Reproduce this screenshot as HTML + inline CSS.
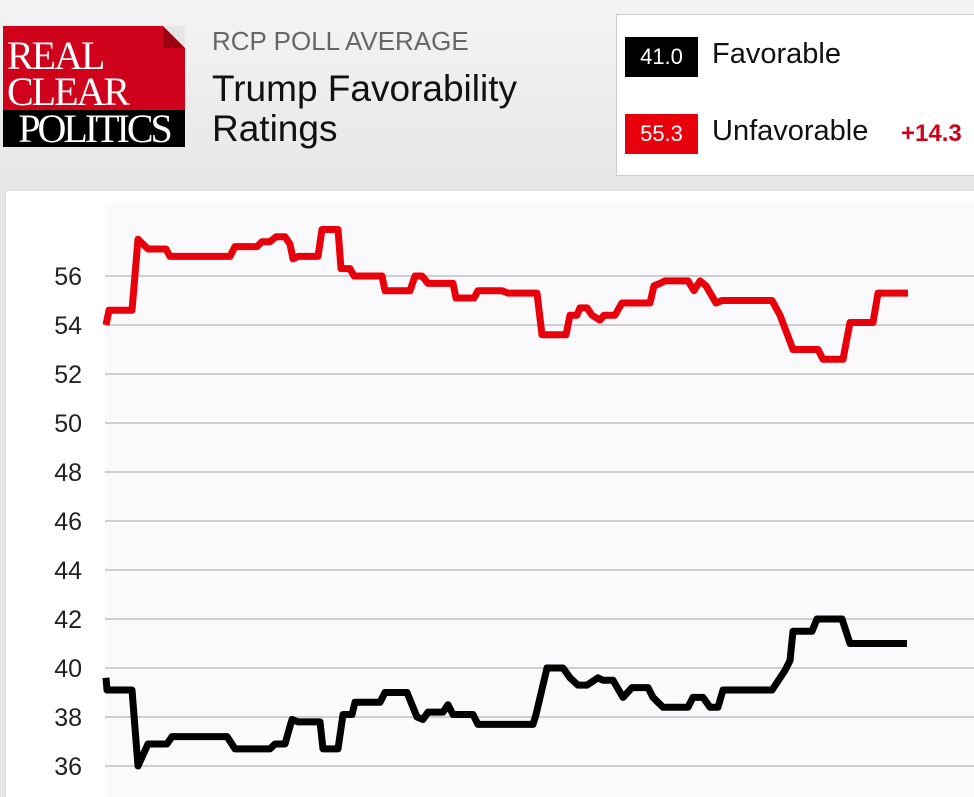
<!DOCTYPE html>
<html><head><meta charset="utf-8">
<style>
html,body{margin:0;width:974px;height:797px;overflow:hidden}
body{background:linear-gradient(#f4f4f4,#e6e6e6 190px,#e6e6e6);font-family:"Liberation Sans",sans-serif;position:relative}
.abs{position:absolute}
</style></head><body>
<div class="abs" style="left:3px;top:26px;width:182px;height:121px;background:#d0021b;font-family:'Liberation Serif',serif;color:#fff;overflow:hidden">
  <div class="abs" style="right:0;top:0;width:0;height:0;border-top:22px solid #e6e6e6;border-left:22px solid #9a0010"></div>
  <div class="abs" style="left:4px;top:12px;font-size:40px;line-height:36px;letter-spacing:-2px">REAL<br>CLEAR</div>
  <div class="abs" style="left:0;top:84px;width:182px;height:37px;background:#000;font-size:40px;line-height:38px;letter-spacing:-3px;text-align:center">POLITICS</div>
</div>
<div class="abs" style="left:212px;top:26px;font-size:26px;color:#666">RCP POLL AVERAGE</div>
<div class="abs" style="left:212px;top:69px;font-size:37px;line-height:40px;color:#111">Trump Favorability<br>Ratings</div>
<div class="abs" style="left:616px;top:14px;width:370px;height:160px;background:#fff;border:1px solid #ccc">
  <div class="abs" style="left:8px;top:22px;height:40px">
    <span class="abs" style="left:0;top:0;width:73px;height:40px;background:#000;color:#fff;font-size:22px;line-height:40px;text-align:center">41.0</span>
    <span class="abs" style="left:87px;top:1px;font-size:29px;color:#111;white-space:nowrap">Favorable</span>
  </div>
  <div class="abs" style="left:8px;top:99px;height:40px">
    <span class="abs" style="left:0;top:0;width:73px;height:40px;background:#e8000b;color:#fff;font-size:22px;line-height:40px;text-align:center">55.3</span>
    <span class="abs" style="left:87px;top:1px;font-size:29px;color:#111;white-space:nowrap">Unfavorable</span>
    <span class="abs" style="left:276px;top:6px;font-size:24px;font-weight:bold;color:#d0021b">+14.3</span>
  </div>
</div>
<div class="abs" style="left:5px;top:190px;width:980px;height:620px;background:#fff;border:1px solid #ddd"></div>
<svg class="abs" style="left:0;top:0" width="974" height="797">
  <rect x="105" y="203" width="869" height="594" fill="#fafafd"/>
  <g id="grid"></g><g id="ticks"></g><g id="lines"></g>
</svg>
<script>
const yTicks=[36,38,40,42,44,46,48,50,52,54,56];
const unfavT=[0,0.6,5.2,6.4,8.4,12,12.8,24.8,25.8,30.2,31.2,32.8,34,35.8,36.8,37.4,38.4,42.4,43.2,46.4,47,48.8,49.6,55.2,55.8,60.8,61.8,63.2,64.4,69.4,70,73.6,74.4,79.2,80.4,86.2,87.2,92,92.8,94.2,94.8,96.2,97.2,98.8,99.6,101.8,103.2,104.4,108.8,109.6,110.8,111.8,116.4,117.6,118.8,120,122,123.2,133.2,134.8,137.4,142.4,143.4,147.4,148.8,153.4,154.4,159.4,160.4];
const unfavV=[54.0,54.6,54.6,57.5,57.1,57.1,56.8,56.8,57.2,57.2,57.4,57.4,57.6,57.6,57.3,56.7,56.8,56.8,57.9,57.9,56.3,56.3,56.0,56.0,55.4,55.4,56.0,56.0,55.7,55.7,55.1,55.1,55.4,55.4,55.3,55.3,53.6,53.6,54.4,54.4,54.7,54.7,54.4,54.2,54.4,54.4,54.9,54.9,54.9,55.6,55.7,55.8,55.8,55.4,55.8,55.6,54.9,55.0,55.0,54.4,53.0,53.0,52.6,52.6,54.1,54.1,55.3,55.3,55.3];
const favT=[0,0.2,5.2,6.4,8.4,12.2,13.2,24.2,25.8,32.8,33.8,35.8,37.2,38.4,42.8,43.4,46.4,47.4,49.2,49.8,54.8,55.8,60.2,62.2,63.4,64.4,67.4,68.4,69.4,73.4,74.4,85.4,86,88.2,91.4,92.8,94.4,96.2,98.4,99.4,101.4,103.4,105.2,108.4,109.4,111.4,116.4,117.4,119.4,120.8,122.4,123.4,133.2,135.8,136.8,137.4,141.2,142.2,147.2,148.8,160.2];
const favV=[39.6,39.1,39.1,36.0,36.9,36.9,37.2,37.2,36.7,36.7,36.9,36.9,37.9,37.8,37.8,36.7,36.7,38.1,38.1,38.6,38.6,39.0,39.0,38.0,37.9,38.2,38.2,38.5,38.1,38.1,37.7,37.7,38.1,40.0,40.0,39.6,39.3,39.3,39.6,39.5,39.5,38.8,39.2,39.2,38.8,38.4,38.4,38.8,38.8,38.4,38.4,39.1,39.1,39.9,40.3,41.5,41.5,42.0,42.0,41.0,41.0];
const NS='http://www.w3.org/2000/svg';
function xS(t){return 106+t*5;}
function yS(v){return 276+(56-v)*24.5;}
const grid=document.getElementById('grid'),ticks=document.getElementById('ticks'),lines=document.getElementById('lines');
yTicks.forEach(v=>{
  const l=document.createElementNS(NS,'line');
  l.setAttribute('x1',105);l.setAttribute('x2',974);l.setAttribute('y1',yS(v));l.setAttribute('y2',yS(v));
  l.setAttribute('stroke','#cfcfd3');l.setAttribute('stroke-width','2');
  
  
  grid.appendChild(l);
  const t=document.createElementNS(NS,'text');
  t.setAttribute('x',82);t.setAttribute('y',yS(v)+9);t.setAttribute('text-anchor','end');
  t.setAttribute('font-size','25');t.setAttribute('fill','#222');t.setAttribute('font-family','Liberation Sans, sans-serif');
  t.textContent=v;
  
  
  ticks.appendChild(t);
});
function draw(T,V,color,name){
  const p=document.createElementNS(NS,'polyline');
  p.setAttribute('points',T.map((t,i)=>xS(t)+','+yS(V[i])).join(' '));
  p.setAttribute('fill','none');p.setAttribute('stroke',color);p.setAttribute('stroke-width','7');
  p.setAttribute('stroke-linejoin','round');
  
  
  lines.appendChild(p);
}
draw(unfavT,unfavV,'#e8000b','unfavorable-line');
draw(favT,favV,'#000','favorable-line');
</script>
</body></html>
